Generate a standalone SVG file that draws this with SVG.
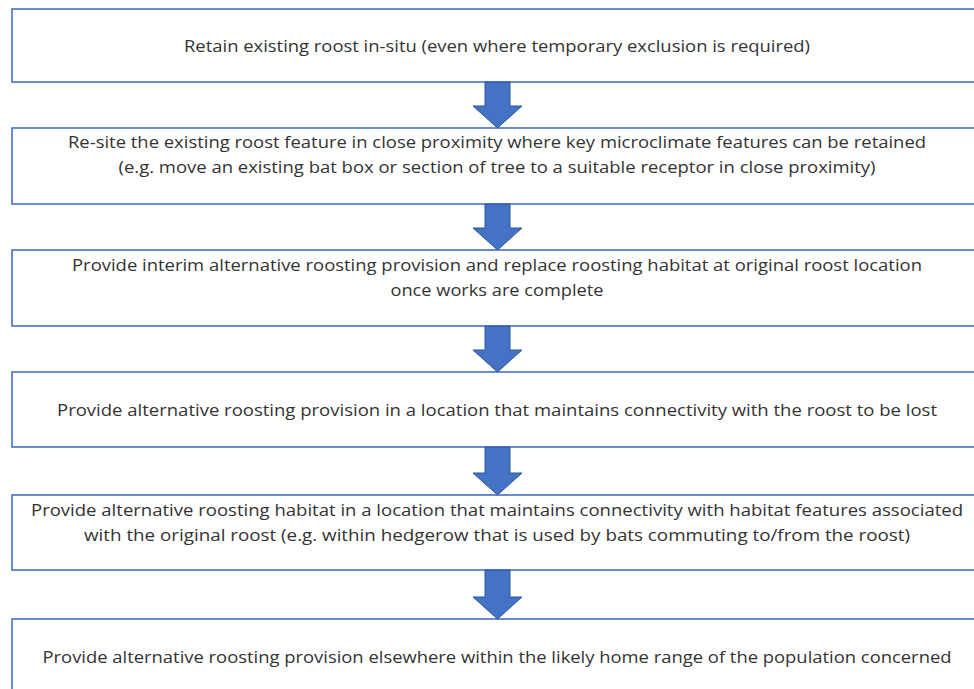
<svg xmlns="http://www.w3.org/2000/svg" width="974" height="689" viewBox="0 0 974 689">
<defs>
<style>
.box{fill:#ffffff;stroke:#4472C4;stroke-width:1.6}
.arrow{fill:#4472C4;stroke:#2F5597;stroke-width:1}
text{font-family:"Open Sans","Noto Sans","Liberation Sans",sans-serif;font-size:16px;fill:#333333;text-anchor:middle}
</style>
</defs>
<rect width="974" height="689" fill="#ffffff"/>
<g id="node1">
<rect class="box" x="12" y="9" width="975" height="73"/>
<text x="497" y="52" textLength="626" lengthAdjust="spacingAndGlyphs">Retain existing roost in-situ (even where temporary exclusion is required)</text>
</g>
<g id="node2">
<rect class="box" x="12" y="128" width="975" height="76"/>
<text x="497" y="148" textLength="858" lengthAdjust="spacingAndGlyphs">Re-site the existing roost feature in close proximity where key microclimate features can be retained</text>
<text x="497" y="173" textLength="757" lengthAdjust="spacingAndGlyphs">(e.g. move an existing bat box or section of tree to a suitable receptor in close proximity)</text>
</g>
<g id="node3">
<rect class="box" x="12" y="250" width="975" height="76"/>
<text x="497" y="271" textLength="850" lengthAdjust="spacingAndGlyphs">Provide interim alternative roosting provision and replace roosting habitat at original roost location</text>
<text x="497" y="296" textLength="213" lengthAdjust="spacingAndGlyphs">once works are complete</text>
</g>
<g id="node4">
<rect class="box" x="12" y="372" width="975" height="75"/>
<text x="497" y="416" textLength="880" lengthAdjust="spacingAndGlyphs">Provide alternative roosting provision in a location that maintains connectivity with the roost to be lost</text>
</g>
<g id="node5">
<rect class="box" x="12" y="495" width="975" height="75"/>
<text x="497" y="516" textLength="932" lengthAdjust="spacingAndGlyphs">Provide alternative roosting habitat in a location that maintains connectivity with habitat features associated</text>
<text x="497" y="541" textLength="826" lengthAdjust="spacingAndGlyphs">with the original roost (e.g. within hedgerow that is used by bats commuting to/from the roost)</text>
</g>
<g id="node6">
<rect class="box" x="12" y="619" width="975" height="80"/>
<text x="497" y="663" textLength="909" lengthAdjust="spacingAndGlyphs">Provide alternative roosting provision elsewhere within the likely home range of the population concerned</text>
</g>
<g id="connectors">
<path class="arrow" d="M485,82 H510 V106 H522 L497.5,128 L473,106 H485 Z"/>
<path class="arrow" d="M485,204 H510 V228 H522 L497.5,250 L473,228 H485 Z"/>
<path class="arrow" d="M485,326 H510 V350 H522 L497.5,372 L473,350 H485 Z"/>
<path class="arrow" d="M485,447 H510 V473 H522 L497.5,495 L473,473 H485 Z"/>
<path class="arrow" d="M485,570 H510 V597 H522 L497.5,619 L473,597 H485 Z"/>
</g>
</svg>
